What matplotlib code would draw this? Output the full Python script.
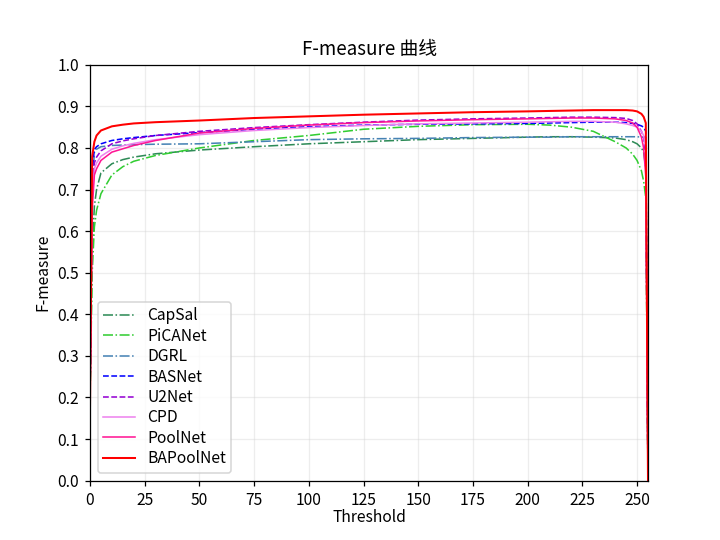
import matplotlib
matplotlib.use("Agg")
import matplotlib.pyplot as plt

plt.rcParams['font.family'] = ['Noto Sans CJK SC', 'DejaVu Sans']

thresholds = [0, 1, 2, 3, 5, 10, 15, 20, 30, 50, 75, 100, 125, 150, 175, 200,
              210, 220, 230, 240, 245, 248, 250, 252, 253, 254, 255]

capsal    = [0.20, 0.55, 0.66, 0.70, 0.74, 0.762, 0.772, 0.778, 0.786, 0.795, 0.803, 0.810,
             0.815, 0.820, 0.823, 0.826, 0.827, 0.827, 0.826, 0.824, 0.820, 0.815, 0.810,
             0.800, 0.790, 0.750, 0.0]
picanet   = [0.20, 0.50, 0.61, 0.65, 0.69, 0.735, 0.755, 0.768, 0.782, 0.800, 0.818, 0.830,
             0.845, 0.852, 0.856, 0.857, 0.855, 0.850, 0.840, 0.815, 0.800, 0.785, 0.770,
             0.745, 0.720, 0.680, 0.0]
dgrl      = [0.20, 0.70, 0.79, 0.797, 0.803, 0.806, 0.807, 0.808, 0.809, 0.810, 0.815, 0.820,
             0.822, 0.823, 0.825, 0.826, 0.826, 0.827, 0.827, 0.827, 0.827, 0.827, 0.827,
             0.826, 0.826, 0.825, 0.0]
basnet    = [0.20, 0.75, 0.796, 0.803, 0.810, 0.818, 0.822, 0.825, 0.830, 0.837, 0.845, 0.851,
             0.855, 0.857, 0.858, 0.859, 0.860, 0.861, 0.862, 0.862, 0.861, 0.859, 0.857,
             0.853, 0.850, 0.840, 0.0]
u2net     = [0.20, 0.70, 0.764, 0.778, 0.793, 0.810, 0.817, 0.822, 0.830, 0.840, 0.849, 0.856,
             0.862, 0.867, 0.870, 0.872, 0.873, 0.874, 0.874, 0.873, 0.871, 0.866, 0.858,
             0.840, 0.827, 0.780, 0.0]
cpd       = [0.20, 0.68, 0.750, 0.764, 0.780, 0.797, 0.805, 0.811, 0.820, 0.832, 0.842, 0.849,
             0.854, 0.858, 0.860, 0.862, 0.863, 0.864, 0.864, 0.862, 0.858, 0.854, 0.850,
             0.840, 0.830, 0.800, 0.0]
poolnet   = [0.20, 0.65, 0.735, 0.750, 0.770, 0.790, 0.798, 0.806, 0.818, 0.836, 0.847, 0.855,
             0.861, 0.865, 0.868, 0.870, 0.871, 0.872, 0.872, 0.870, 0.866, 0.860, 0.850,
             0.826, 0.800, 0.730, 0.0]
bapoolnet = [0.18, 0.78, 0.815, 0.830, 0.842, 0.852, 0.856, 0.859, 0.862, 0.866, 0.872, 0.876,
             0.880, 0.883, 0.886, 0.888, 0.889, 0.890, 0.891, 0.891, 0.891, 0.890, 0.888,
             0.882, 0.875, 0.860, 0.0]

series = [
    ("CapSal", capsal, "seagreen", "-.", 1.0),
    ("PiCANet", picanet, "limegreen", "-.", 1.0),
    ("DGRL", dgrl, "steelblue", "-.", 1.0),
    ("BASNet", basnet, "blue", "--", 1.0),
    ("U2Net", u2net, "darkviolet", "--", 1.0),
    ("CPD", cpd, "violet", "-", 1.0),
    ("PoolNet", poolnet, "deeppink", "-", 1.0),
    ("BAPoolNet", bapoolnet, "red", "-", 1.3),
]

fig, ax = plt.subplots(figsize=(6.4, 4.8), dpi=112.5)
for name, vals, color, ls, lw in series:
    ax.plot(thresholds, vals, color=color, linestyle=ls, linewidth=lw, label=name)

ax.set_xlim(0, 255)
ax.set_ylim(0, 1.0)
ax.set_xticks(range(0, 251, 25))
ax.set_yticks([i / 10 for i in range(11)])
ax.grid(True, color='lightgray', alpha=0.4)
ax.set_xlabel("Threshold", labelpad=0.5)
ax.set_ylabel("F-measure")
ax.set_title("F-measure 曲线")
ax.legend(loc='lower left', labelspacing=0.22, borderpad=0.35)
fig.savefig("out.png", dpi=112.5)
